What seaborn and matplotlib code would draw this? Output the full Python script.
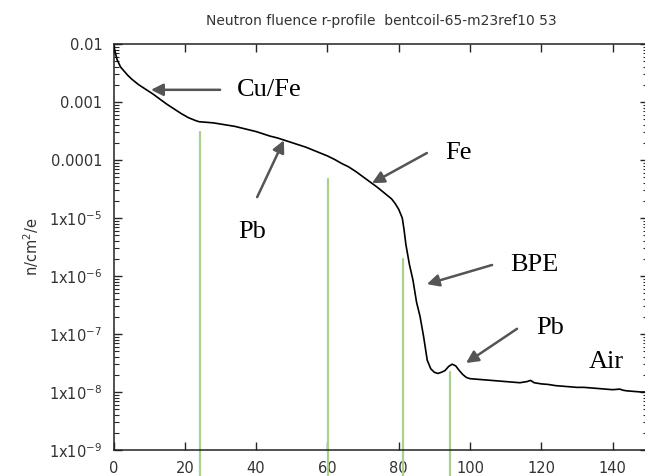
import numpy as np
import matplotlib
matplotlib.use('Agg')
import matplotlib.pyplot as plt
import seaborn as sns

# radial position (cm) and log10 of fluence
radius = [0, 0.5, 1, 2, 3, 4, 5, 7, 9, 11, 13, 15, 17, 19, 21, 23, 24, 26, 28, 30,
          32, 34, 36, 38, 40, 42, 44, 46, 48, 50, 52, 54, 56, 58, 60, 62, 64, 66, 68, 70,
          72, 74, 76, 78, 79, 80, 81, 81.5, 82, 83, 84, 85, 86, 87, 88, 89, 90, 91, 92, 93,
          94, 95, 96, 97, 98, 99, 100, 102, 104, 106, 108, 110, 112, 114, 116, 117, 118, 120,
          122, 124, 126, 128, 130, 132, 134, 136, 138, 140, 142, 143, 144, 146, 148, 150]
log_flux = [-2.03, -2.15, -2.27, -2.40, -2.47, -2.54, -2.60, -2.70, -2.78, -2.86, -2.95, -3.04,
            -3.12, -3.20, -3.27, -3.32, -3.34, -3.35, -3.36, -3.38, -3.40, -3.42, -3.45, -3.48,
            -3.51, -3.55, -3.59, -3.62, -3.66, -3.70, -3.74, -3.78, -3.83, -3.88, -3.93, -3.99,
            -4.06, -4.12, -4.20, -4.29, -4.38, -4.47, -4.57, -4.67, -4.75, -4.85, -5.00, -5.20,
            -5.45, -5.80, -6.07, -6.45, -6.70, -7.05, -7.45, -7.60, -7.66, -7.68, -7.66, -7.63,
            -7.56, -7.52, -7.55, -7.63, -7.70, -7.75, -7.77, -7.78, -7.79, -7.80, -7.81, -7.82,
            -7.83, -7.84, -7.82, -7.80, -7.84, -7.86, -7.87, -7.89, -7.90, -7.91, -7.92, -7.92,
            -7.93, -7.94, -7.95, -7.96, -7.95, -7.97, -7.98, -7.99, -8.00, -8.00]
flux = 10 ** np.array(log_flux)

# material boundaries (green markers)
boundary_r = [24.4, 60.2, 81.1, 94.4]
boundary_top = [3.0e-4, 4.7e-5, 1.95e-6, 2.2e-8]

y_ticks = [1e-2, 1e-3, 1e-4, 1e-5, 1e-6, 1e-7, 1e-8, 1e-9]
y_labels = ['0.01', '0.001', '0.0001', '1x10$^{-5}$', '1x10$^{-6}$',
            '1x10$^{-7}$', '1x10$^{-8}$', '1x10$^{-9}$']
x_ticks = [0, 20, 40, 60, 80, 100, 120, 140]

# label text, text position, arrow tail, arrow tip
labels = [
    ('Cu/Fe', (34.6, 10 ** -2.79), (29.9, 10 ** -2.79), (10.5, 10 ** -2.79)),
    ('Pb', (35.0, 10 ** -5.24), (40.3, 10 ** -4.64), (47.8, 10 ** -3.66)),
    ('Fe', (93.0, 10 ** -3.88), (87.9, 10 ** -3.88), (72.5, 10 ** -4.40)),
    ('BPE', (111.2, 10 ** -5.81), (106.2, 10 ** -5.81), (87.9, 10 ** -6.14)),
    ('Pb', (118.5, 10 ** -6.90), (113.2, 10 ** -6.91), (98.9, 10 ** -7.50)),
    ('Air', (133.4, 10 ** -7.48), None, None),
]

sns.set_style('ticks')
plt.rcParams['font.family'] = ['DejaVu Sans']
plt.rcParams['mathtext.default'] = 'regular'

fig = plt.figure(figsize=(6.45, 4.76), dpi=100)
ax = fig.add_axes([0.176, 0.0546, 0.829, 0.853])

for r, top in zip(boundary_r, boundary_top):
    ax.plot([r, r], [3e-10, top], color='#a9d18e', lw=1.6, clip_on=False, zorder=1)

sns.lineplot(x=radius, y=flux, color='black', lw=1.2, ax=ax, zorder=3)

ax.set_yscale('log')
ax.set_xlim(0, 150)
ax.set_ylim(1e-9, 1e-2)
ax.set_xticks(x_ticks)
ax.set_xticklabels([str(t) for t in x_ticks])
ax.set_yticks(y_ticks)
ax.set_yticklabels(y_labels)

for s in ax.spines.values():
    s.set_color('#222222')
    s.set_linewidth(1.1)

ax.tick_params(axis='both', which='major', direction='in', length=6, width=1,
               top=True, right=True, labelsize=10.5, labelcolor='#333333', pad=8)
ax.tick_params(axis='y', which='minor', direction='in', length=3.5, width=0.8,
               left=True, right=True)
ax.tick_params(axis='x', which='minor', bottom=False, top=False)

ax.set_title('Neutron fluence r-profile  bentcoil-65-m23ref10 53', fontsize=10,
             color='#333333', pad=14)
ax.set_ylabel('n/cm$^2$/e', fontsize=10.5, color='#333333', labelpad=6)

for text, pos, tail, tip in labels:
    ax.text(pos[0], pos[1], text, fontsize=19, family='Liberation Serif',
            ha='left', va='center', color='black')
    if tip is not None:
        ax.annotate('', xy=tip, xytext=tail,
                    arrowprops=dict(arrowstyle='-|>', color='#555555', lw=1.8,
                                    mutation_scale=18, shrinkA=0, shrinkB=0))

plt.savefig('out.png', dpi=100)
